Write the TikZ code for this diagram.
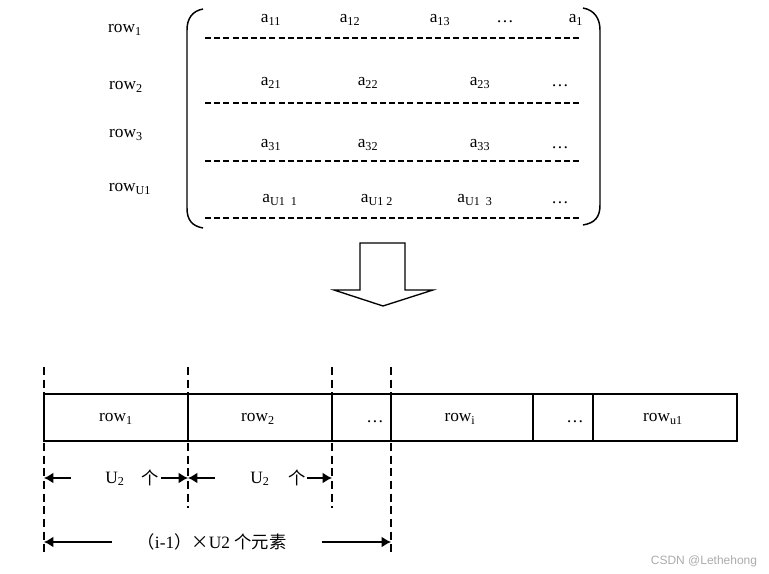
\documentclass[tikz,border=0pt]{standalone}
\usepackage{fontspec}
\setmainfont{Liberation Serif}
\newfontfamily\cjk{Noto Sans CJK SC}
\newfontfamily\wmfont{Liberation Sans}
\usetikzlibrary{arrows.meta}
\begin{document}
\begin{tikzpicture}[x=0.75pt,y=-0.75pt,
  txt/.style={inner sep=0pt, font=\fontsize{13}{15}\selectfont},
  hdash/.style={line width=0.8pt, dash pattern=on 4.5pt off 2.4pt},
  vdash/.style={line width=0.8pt, dash pattern=on 6pt off 3.5pt},
  brk/.style={line width=1.1pt},
  cell/.style={draw, line width=1pt, inner sep=0pt, minimum height=35.25pt},
  dim/.style={line width=0.9pt},
  tip/.style={-{Latex[length=7pt,width=8pt]}},
  wm/.style={inner sep=0pt, text=black!33, font=\wmfont\fontsize{9}{10}\selectfont}]
\useasboundingbox (0,0) rectangle (769,574);

% ---- matrix brackets
\draw[brk] (203,9) .. controls (192,11) and (187,19) .. (187,30) -- (187,208)
  .. controls (187,220) and (192,226) .. (203,228);
\draw[brk] (583,8) .. controls (594,10) and (600,18) .. (600,30) -- (600,205)
  .. controls (600,217) and (595,223) .. (583,225);

% ---- row labels
\node[txt] (r1) at (125,30) {row\textsubscript{1}};
\node[txt] (r2) at (126,87) {row\textsubscript{2}};
\node[txt] (r3) at (126,135) {row\textsubscript{3}};
\node[txt] (rU) at (130,189) {row\textsubscript{U1}};

% ---- dashed separators
\coordinate (h1a) at (205,38);  \coordinate (h1b) at (580,38);
\coordinate (h2a) at (205,103); \coordinate (h2b) at (580,103);
\coordinate (h3a) at (205,161); \coordinate (h3b) at (580,161);
\coordinate (h4a) at (205,218); \coordinate (h4b) at (580,218);
\draw[hdash] (h1a) -- (h1b);
\draw[hdash] (h2a) -- (h2b);
\draw[hdash] (h3a) -- (h3b);
\draw[hdash] (h4a) -- (h4b);

% ---- entries
\node[txt] (a11) at (271,20) {a\textsubscript{11}};
\node[txt] (a12) at (350,20) {a\textsubscript{12}};
\node[txt] (a13) at (440,20) {a\textsubscript{13}};
\node[txt] (a1d) at (505,22) {\dots};
\node[txt] (a1n) at (576,20) {a\textsubscript{1}};
\node[txt] (a21) at (271,83) {a\textsubscript{21}};
\node[txt] (a22) at (368,83) {a\textsubscript{22}};
\node[txt] (a23) at (480,83) {a\textsubscript{23}};
\node[txt] (a2d) at (560,86) {\dots};
\node[txt] (a31) at (271,145) {a\textsubscript{31}};
\node[txt] (a32) at (368,145) {a\textsubscript{32}};
\node[txt] (a33) at (480,145) {a\textsubscript{33}};
\node[txt] (a3d) at (560,148) {\dots};
\node[txt] (aU1) at (280,200) {a\textsubscript{U1\ \ 1}};
\node[txt] (aU2) at (377,200) {a\textsubscript{U1\ 2}};
\node[txt] (aU3) at (475,200) {a\textsubscript{U1\ \ 3}};
\node[txt] (aUd) at (560,203) {\dots};

% ---- hollow down arrow
\draw[line width=1pt, line join=miter] (360,243) -- (405,243) -- (405,290) -- (433,290)
  -- (383,306) -- (334,290) -- (360,290) -- cycle;

% ---- bottom cells
\node[cell, minimum width=108pt]   (b1) at (116,417.5) {};
\node[cell, minimum width=108pt]   (b2) at (260,417.5) {};
\node[cell, minimum width=44.25pt] (b3) at (361.5,417.5) {};
\node[cell, minimum width=106.5pt] (b4) at (462,417.5) {};
\node[cell, minimum width=45pt]    (b5) at (563,417.5) {};
\node[cell, minimum width=108pt]   (b6) at (665,417.5) {};
\node[txt] (t1) at (116,419) {row\textsubscript{1}};
\node[txt] (t2) at (258,419) {row\textsubscript{2}};
\node[txt] (t3) at (375,422) {\dots};
\node[txt] (t4) at (460,419) {row\textsubscript{i}};
\node[txt] (t5) at (575,422) {\dots};
\node[txt] (t6) at (663,419) {row\textsubscript{u1}};

% ---- vertical dashed guides
\coordinate (v1t) at (44,367);  \coordinate (v1b) at (44,556);
\coordinate (v2t) at (188,367); \coordinate (v2b) at (188,508);
\coordinate (v3t) at (332,367); \coordinate (v3b) at (332,508);
\coordinate (v4t) at (391,367); \coordinate (v4b) at (391,556);
\draw[vdash] (v1t) -- (v1b);
\draw[vdash] (v2t) -- (v2b);
\draw[vdash] (v3t) -- (v3b);
\draw[vdash] (v4t) -- (v4b);

% ---- dimension arrows
\coordinate (d1a) at (44,478);  \coordinate (d1b) at (71,478);
\coordinate (d1c) at (161,478); \coordinate (d1d) at (188,478);
\coordinate (d2a) at (188,478); \coordinate (d2b) at (215,478);
\coordinate (d2c) at (307,478); \coordinate (d2d) at (332,478);
\coordinate (d3a) at (44,542);  \coordinate (d3b) at (112,542);
\coordinate (d3c) at (322,542); \coordinate (d3d) at (391,542);
\draw[dim, tip] (d1b) -- (d1a);
\draw[dim, tip] (d1c) -- (d1d);
\draw[dim, tip] (d2b) -- (d2a);
\draw[dim, tip] (d2c) -- (d2d);
\draw[dim, tip] (d3b) -- (d3a);
\draw[dim, tip] (d3c) -- (d3d);
\node[txt] (u1) at (115,479) {U\textsubscript{2}};
\node[txt] (g1) at (150,478) {\cjk 个};
\node[txt] (u2) at (260,479) {U\textsubscript{2}};
\node[txt] (g2) at (297,478) {\cjk 个};
\node[txt] (tot) at (212,542) {{\cjk （}i-1{\cjk ）×}U2 {\cjk 个元素}};

% ---- watermark
\node[wm] (mark) at (704,561) {CSDN @Lethehong};
\end{tikzpicture}
\end{document}
